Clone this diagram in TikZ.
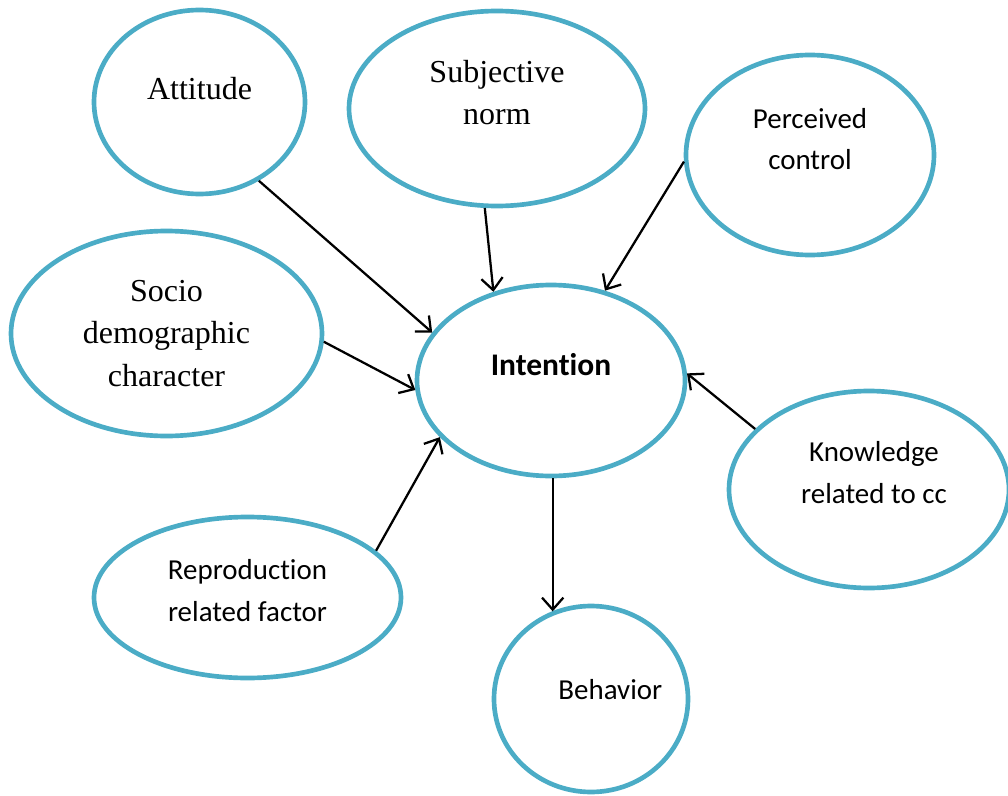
\documentclass[tikz,border=0pt]{standalone}
\usepackage{fontspec}
\setmainfont{Liberation Serif}
\newfontfamily\calibrifont[Ligatures=NoCommon]{Carlito}
\usetikzlibrary{arrows.meta,shapes.geometric}
\definecolor{ovalblue}{HTML}{4BACC6}

\tikzset{
  oval/.style 2 args={ellipse, draw=ovalblue, line width=3.5pt, inner sep=0pt,
    minimum width=#1*0.75pt, minimum height=#2*0.75pt},
  serif txt/.style={font=\fontsize{24}{32}\selectfont, align=center, inner sep=0pt},
  sans txt/.style={font=\calibrifont\fontsize{21.7}{31}\selectfont, align=center, inner sep=0pt},
  link/.style={line width=1.7pt, -{Straight Barb[length=9pt,width=16pt]}}
}

\begin{document}
\begin{tikzpicture}[x=0.75pt,y=-0.75pt]
\useasboundingbox (0,0) rectangle (1008,796);

% the ovals
\node[oval={211}{184}, label={[serif txt,yshift=9.75pt]center:Attitude}] (attitude) at (199.5,102) {};
\node[oval={296}{195}, label={[serif txt,yshift=12pt]center:{Subjective\\norm}}] (subjnorm) at (497,108.5) {};
\node[oval={248}{200}, label={[sans txt,yshift=12pt]center:{Perceived\\control}}] (perceived) at (810,155) {};
\node[oval={311}{205}, label={[serif txt]center:{Socio\\demographic\\character}}] (socio) at (166.5,333.5) {};
\node[oval={268}{191}, label={[sans txt,font=\calibrifont\bfseries\fontsize{23.6}{31}\selectfont,yshift=11.6pt]center:Intention}] (intention) at (551,380.5) {};
\node[oval={280}{197}, label={[sans txt,xshift=3.75pt,yshift=12.75pt]center:{Knowledge\\related to cc}}] (knowledge) at (869,489.5) {};
\node[oval={307}{161}, label={[sans txt,yshift=5.25pt]center:{Reproduction\\related factor}}] (reproduction) at (247.5,597.5) {};
\node[oval={194}{186}, label={[sans txt,xshift=14.5pt,yshift=7pt]center:Behavior}] (behavior) at (591,699) {};

% arrows into intention
\draw[link] (attitude.-53.4) -- (intention.158.1);
\draw[link] (subjnorm.-97.4) -- (intention.123.4);
\draw[link] (perceived.-177.7) -- (intention.59.6);
\draw[link] (socio.-3.1) -- (intention.-176.1);
\draw[link] (reproduction.20.9) -- (intention.-153.4);
\draw[link] (knowledge.152.4) -- (intention.3.6);
% intention to behavior
\draw[link] (intention.-89.2) -- (intention.-89.2 |- behavior.114);
\end{tikzpicture}
\end{document}
